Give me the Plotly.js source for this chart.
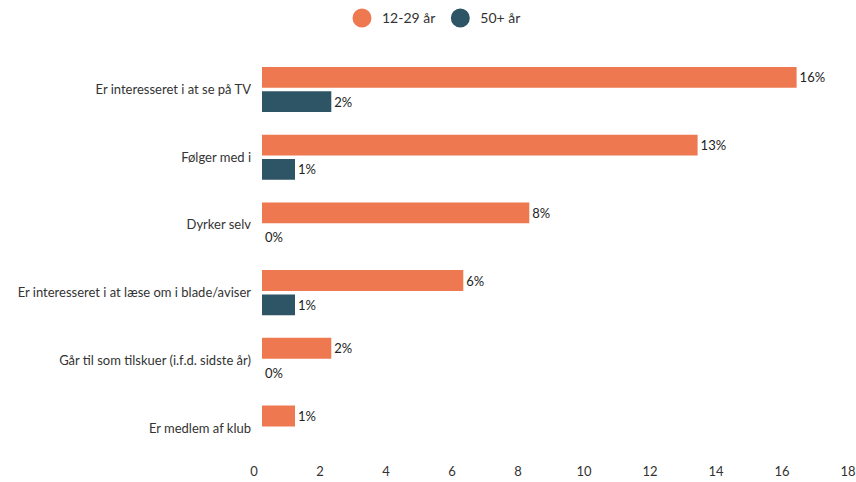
<!DOCTYPE html>
<html>
<head>
<meta charset="utf-8">
<script src="https://cdn.plot.ly/plotly-3.0.1.min.js"></script>
<style>html,body{margin:0;padding:0;background:#fff;}#chart{width:856px;height:482px;}</style>
</head>
<body>
<div id="chart"></div>
<script>
const categories = [
  "Er interesseret i at se på TV",
  "Følger med i",
  "Dyrker selv",
  "Er interesseret i at læse om i blade/aviser",
  "Går til som tilskuer (i.f.d. sidste år)",
  "Er medlem af klub"
];
const seriesNames = ["12-29 år", "50+ år"];
const young = [16.2, 13.2, 8.1, 6.1, 2.1, 1.0];
const old = [2.1, 1.0, 0.0, 1.0, 0.0, null];
const xTicks = [0, 2, 4, 6, 8, 10, 12, 14, 16, 18];

const colors = ["#EE7850", "#2E5565"];
const fontFam = "Lato, 'Open Sans', sans-serif";

const barCommon = {
  type: "bar",
  orientation: "h",
  y: categories,
  texttemplate: "%{x:.0f}%",
  textposition: "outside",
  cliponaxis: false,
  textfont: {family: fontFam, size: 13, color: "#222"},
  showlegend: false,
  hoverinfo: "x+y"
};

const data = [
  Object.assign({}, barCommon, {x: young, name: seriesNames[0], marker: {color: colors[0]}}),
  Object.assign({}, barCommon, {x: old, name: seriesNames[1], marker: {color: colors[1]}}),
  {type: "scatter", mode: "markers", x: [null], y: [null], name: seriesNames[0],
   marker: {symbol: "circle", size: 16, color: colors[0], line: {color: colors[0], width: 3}}},
  {type: "scatter", mode: "markers", x: [null], y: [null], name: seriesNames[1],
   marker: {symbol: "circle", size: 16, color: colors[1], line: {color: colors[1], width: 3}}}
];

const layout = {
  width: 856, height: 482,
  margin: {l: 262, r: 0, t: 31, b: 20},
  paper_bgcolor: "#fff", plot_bgcolor: "#fff",
  font: {family: fontFam, size: 13, color: "#333"},
  barmode: "group",
  bargap: 0.283,
  bargroupgap: 0.143,
  xaxis: {
    range: [0, 18],
    tickvals: xTicks,
    ticktext: xTicks.map(String),
    showgrid: false, zeroline: false, showline: false,
    ticks: "",
    ticklabelshift: -8,
    tickfont: {family: fontFam, size: 13, color: "#333"}
  },
  yaxis: {
    type: "category",
    categoryorder: "array",
    categoryarray: categories,
    range: [5.5, -0.8126],
    showgrid: false, zeroline: false, showline: false,
    ticks: "",
    ticklabelstandoff: 10,
    tickfont: {family: fontFam, size: 13, color: "#333"}
  },
  legend: {
    orientation: "h",
    xref: "container", yref: "container",
    x: 0.507, xanchor: "center",
    y: 0.995, yanchor: "top",
    font: {family: fontFam, size: 14, color: "#333"},
    itemclick: false, itemdoubleclick: false
  },
  shapes: [{
    type: "line", xref: "x", yref: "paper",
    x0: -1, x1: -1, y0: -0.0464, y1: 1,
    xsizemode: "pixel", xanchor: 0,
    line: {color: "#cccccc", width: 1.5}
  }]
};

Plotly.newPlot("chart", data, layout, {displayModeBar: false, staticPlot: true});
</script>
</body>
</html>
